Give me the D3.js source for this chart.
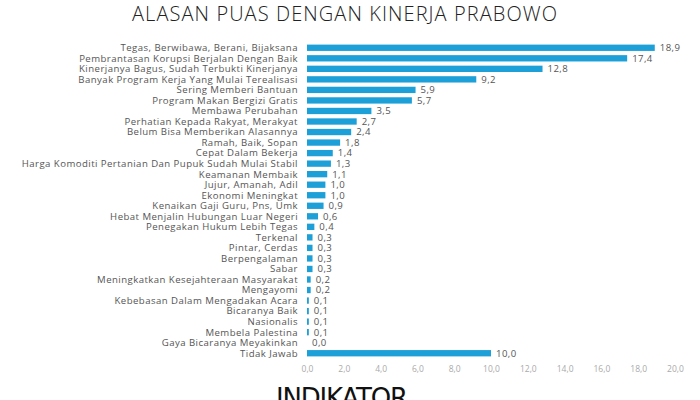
<!DOCTYPE html>
<html><head><meta charset="utf-8">
<script src="https://cdn.jsdelivr.net/npm/d3@7"></script>
<style>body{margin:0;background:#fff}svg{display:block}</style>
</head><body><svg id="c" width="700" height="400"></svg>
<script>
const categories = ["Tegas, Berwibawa, Berani, Bijaksana","Pembrantasan Korupsi Berjalan Dengan Baik","Kinerjanya Bagus, Sudah Terbukti Kinerjanya","Banyak Program Kerja Yang Mulai Terealisasi","Sering Memberi Bantuan","Program Makan Bergizi Gratis","Membawa Perubahan","Perhatian Kepada Rakyat, Merakyat","Belum Bisa Memberikan Alasannya","Ramah, Baik, Sopan","Cepat Dalam Bekerja","Harga Komoditi Pertanian Dan Pupuk Sudah Mulai Stabil","Keamanan Membaik","Jujur, Amanah, Adil","Ekonomi Meningkat","Kenaikan Gaji Guru, Pns, Umk","Hebat Menjalin Hubungan Luar Negeri","Penegakan Hukum Lebih Tegas","Terkenal","Pintar, Cerdas","Berpengalaman","Sabar","Meningkatkan Kesejahteraan Masyarakat","Mengayomi","Kebebasan Dalam Mengadakan Acara","Bicaranya Baik","Nasionalis","Membela Palestina","Gaya Bicaranya Meyakinkan","Tidak Jawab"];
const values = [18.9,17.4,12.8,9.2,5.9,5.7,3.5,2.7,2.4,1.8,1.4,1.3,1.1,1.0,1.0,0.9,0.6,0.4,0.3,0.3,0.3,0.3,0.2,0.2,0.1,0.1,0.1,0.1,0.0,10.0];
const ticks = [0,2,4,6,8,10,12,14,16,18,20];
const title = "ALASAN PUAS DENGAN KINERJA PRABOWO";

const svg = d3.select("#c");
const font = "'Open Sans', sans-serif";
const fmt = v => v.toFixed(1).replace(".", ",");
const x = d3.scaleLinear().domain([0,20]).range([307,675]);
const y = d3.scaleBand().domain(categories).range([42.5,358.5]).paddingInner(0.4).paddingOuter(0.2);

svg.append("text").attr("x",344.5).attr("y",21).attr("text-anchor","middle")
  .attr("font-family",font).attr("font-weight",300).attr("font-size",20).attr("fill","#222")
  .attr("textLength",425).attr("lengthAdjust","spacing")
  .text(title);

svg.selectAll("rect.bar").data(values).enter().append("rect").attr("class","bar")
  .attr("x",x(0)).attr("y",(d,i)=>y(categories[i]))
  .attr("width",d=>x(d)-x(0)).attr("height",y.bandwidth())
  .attr("fill","#1d9fd8");

svg.selectAll("text.val").data(values).enter().append("text").attr("class","val")
  .attr("x",d=>x(d)+5).attr("y",(d,i)=>y(categories[i])+y.bandwidth()/2)
  .attr("dy","0.35em").attr("font-family",font).attr("font-size",9.6).attr("letter-spacing",0.4).attr("fill","#555")
  .text(fmt);

svg.selectAll("text.cat").data(categories).enter().append("text").attr("class","cat")
  .attr("x",298).attr("y",d=>y(d)+y.bandwidth()/2).attr("dy","0.35em")
  .attr("text-anchor","end").attr("font-family",font).attr("font-size",9.6).attr("letter-spacing",0.45).attr("fill","#555")
  .text(d=>d);

const ax = svg.append("g").attr("transform","translate(0,361)")
  .call(d3.axisBottom(x).tickValues(ticks).tickFormat(fmt).tickSize(0).tickPadding(5));
ax.select(".domain").remove();
ax.selectAll("text").attr("font-family",font).attr("font-size",8.5).attr("fill","#aaa");

svg.append("text").attr("x",276).attr("y",407).attr("font-family","'DejaVu Sans', sans-serif")
  .attr("font-size",26).attr("textLength",132).attr("fill","#111").text("INDIKATOR");
</script></body></html>
